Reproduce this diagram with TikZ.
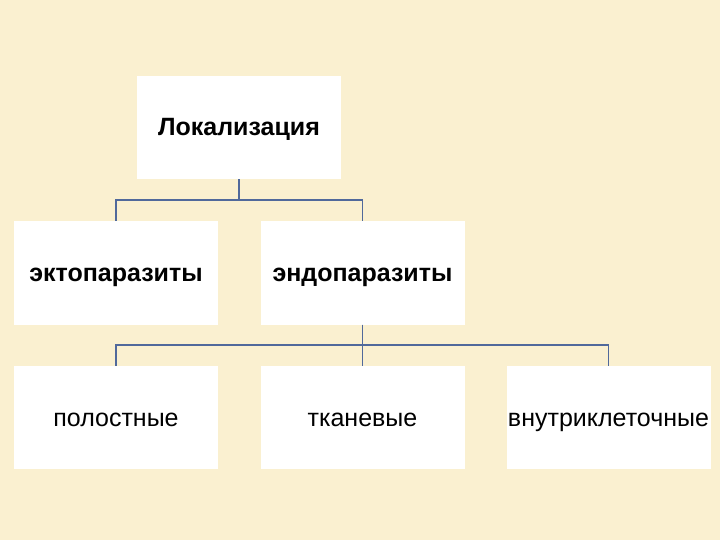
\documentclass[tikz,border=0pt]{standalone}
\usepackage{fontspec}
\setmainfont{Liberation Sans}
\begin{document}
\begin{tikzpicture}[x=1pt,y=-1pt,
  box/.style={fill=white,draw=none,minimum width=204pt,minimum height=103pt,inner sep=0pt,text height=18pt,text depth=1pt,font=\fontsize{25}{28}\selectfont},
  bbox/.style={box,font=\fontsize{25}{28}\selectfont\bfseries},
  conn/.style={draw={rgb,255:red,80;green,105;blue,155},line width=1.6pt}]
\fill[fill={rgb,255:red,250;green,240;blue,208}] (0,0) rectangle (720,540);
\useasboundingbox (0,0) rectangle (720,540);
\node[bbox] (loc) at (239,127.5) {Локализация};
\node[bbox] (ekt) at (116,273) {эктопаразиты};
\node[bbox] (end) at (362.5,273) {эндопаразиты};
\node[box] (pol) at (116,417.5) {полостные};
\node[box] (tk) at (362.5,417.5) {тканевые};
\node[box] (vn) at (608.5,417.5) {внутриклеточные};
\draw[conn] (loc.south) -- ++(0,21) -| (ekt.north);
\draw[conn] (loc.south) ++(0,21) -| (end.north);
\draw[conn] (end.south) -- ++(0,20) -| (pol.north);
\draw[conn] (end.south) -- (tk.north);
\draw[conn] (end.south) ++(0,20) -| (vn.north);
\end{tikzpicture}
\end{document}
